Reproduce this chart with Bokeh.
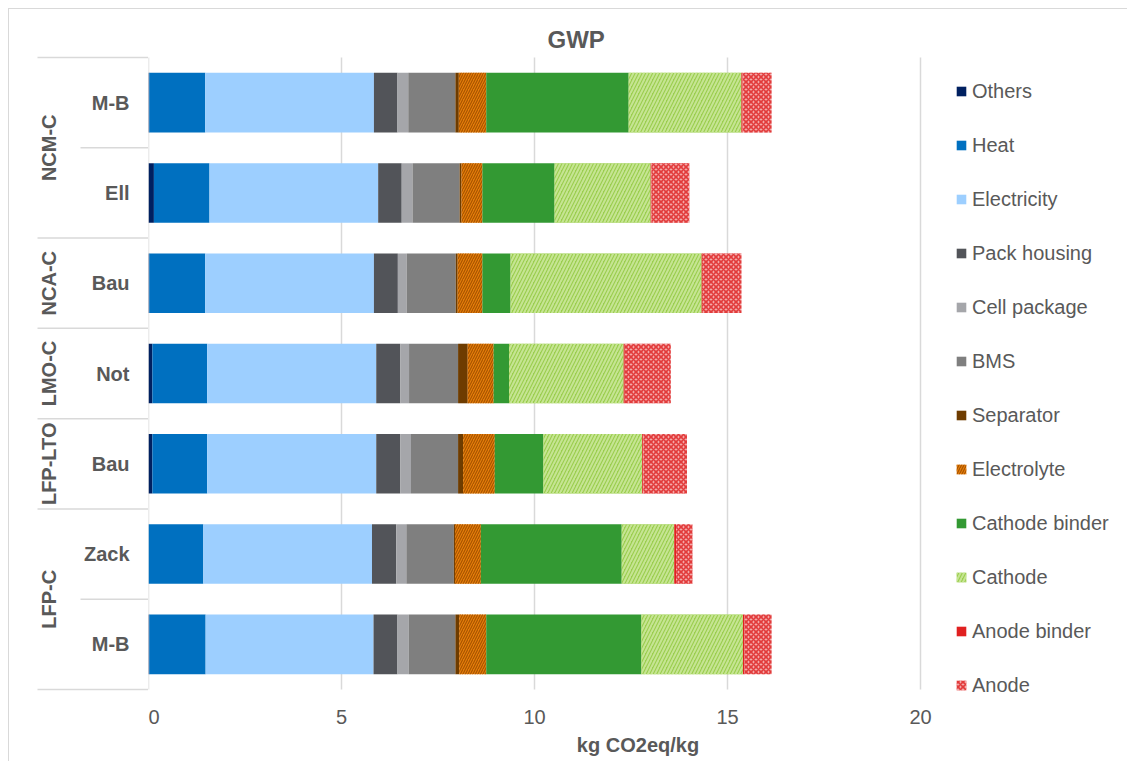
from bokeh.plotting import figure
from bokeh.models import ColumnDataSource, Range1d, FixedTicker, Legend, LegendItem
from bokeh.layouts import row
from bokeh.core.properties import value
from bokeh.embed import file_html
from bokeh.resources import INLINE
import math

# ---------------- data (bottom to top) ----------------
groups = ["LFP-C", "LFP-C", "LFP-LTO", "LMO-C", "NCA-C", "NCM-C", "NCM-C"]
studies = ["M-B", "Zack", "Bau", "Not", "Bau", "Ell", "M-B"]

others = [0.02, 0.00, 0.10, 0.10, 0.02, 0.14, 0.02]
heat = [1.46, 1.42, 1.42, 1.42, 1.45, 1.44, 1.45]
electricity = [4.35, 4.37, 4.38, 4.38, 4.37, 4.37, 4.37]
pack_housing = [0.62, 0.63, 0.62, 0.62, 0.62, 0.61, 0.61]
cell_package = [0.29, 0.26, 0.28, 0.23, 0.23, 0.28, 0.28]
bms = [1.21, 1.23, 1.22, 1.27, 1.27, 1.22, 1.22]
separator = [0.10, 0.03, 0.13, 0.25, 0.05, 0.05, 0.09]
electrolyte = [0.70, 0.67, 0.82, 0.67, 0.64, 0.54, 0.71]
cathode_binder = [4.02, 3.65, 1.26, 0.40, 0.73, 1.87, 3.69]
cathode = [2.63, 1.36, 2.56, 2.97, 4.95, 2.49, 2.92]
anode_binder = [0.04, 0.05, 0.03, 0.03, 0.01, 0.02, 0.03]
anode = [0.70, 0.42, 1.13, 1.19, 1.02, 0.98, 0.75]

series_names = ["Others", "Heat", "Electricity", "Pack housing", "Cell package", "BMS",
                "Separator", "Electrolyte", "Cathode binder", "Cathode", "Anode binder", "Anode"]
series_values = [others, heat, electricity, pack_housing, cell_package, bms,
                 separator, electrolyte, cathode_binder, cathode, anode_binder, anode]
x_ticks = [0, 5, 10, 15, 20]
title_text = "GWP"
x_title = "kg CO2eq/kg"

# ---------------- styles ----------------
fill_colors = ["#002060", "#0070C0", "#9DCFFF", "#525459", "#A5A6AA", "#7F7F7F",
               "#6E3C00", "#E67E0A", "#339933", "#9ACD4E", "#E02020", "#F4A9A9"]
hatch_patterns = [None, None, None, None, None, None,
                  None, "/", None, "/", None, "x"]
hatch_colors = ["black"] * 7 + ["#A85400", "black", "#C6E593", "black", "#E23B3B"]
hatch_scales = [12] * 7 + [5, 12, 7, 12, 5]
hatch_weights = [1] * 7 + [1.2, 1, 2, 1, 1.6]
TEXT = "#595959"
GRID = "#D9D9D9"
FONT = "Liberation Sans"

# ---------------- layout constants (pixels, figure coords) ----------------
LEFT_W = 139
MAIN_W = 979
FIG_H = 752
PAD_T = 2
PAD_B = 13
TOP = 48 - PAD_T       # frame top
BOTTOM = 680 + PAD_B   # frame bottom
n = len(studies)
ppc = (680 - 48) / n            # pixels per category
PX_PER_UNIT = 772 / 20           # pixels per x unit
y_range = Range1d(-0.5 - PAD_B / ppc, n - 0.5 + PAD_T / ppc)

idx = list(range(n))
data = {"y": idx}
for name, vals in zip(series_names, series_values):
    data[name] = vals
src = ColumnDataSource(data)

# ---------------- main figure ----------------
p = figure(width=MAIN_W, height=FIG_H, x_range=Range1d(0, MAIN_W / PX_PER_UNIT), y_range=y_range,
           y_axis_location=None, toolbar_location=None, output_backend="svg",
           min_border_left=0, min_border_right=0, min_border_top=TOP,
           min_border_bottom=FIG_H - BOTTOM, outline_line_color=None, title=title_text)

p.title.align = "left"
p.title.offset = 399
p.title.standoff = 5
p.title.text_font = FONT
p.title.text_font_size = "24px"
p.title.text_font_style = "bold"
p.title.text_color = TEXT

p.xgrid.visible = False
p.ygrid.visible = False
# vertical gridlines over the category span only
p.segment(x0=x_ticks, x1=x_ticks, y0=[-0.5] * len(x_ticks), y1=[n - 0.5] * len(x_ticks),
          line_color=GRID, line_width=1.5)

ax = p.xaxis[0]
ax.ticker = FixedTicker(ticks=x_ticks)
ax.bounds = (x_ticks[0], x_ticks[-1])
ax.axis_line_color = None
ax.major_tick_line_color = None
ax.minor_tick_line_color = None
ax.major_label_standoff = 1
ax.major_label_text_font = FONT
ax.major_label_text_font_size = "20px"
ax.major_label_text_color = TEXT
ax.axis_label = x_title
ax.axis_label_standoff = 7
ax.axis_label_text_font = FONT
ax.axis_label_text_font_size = "20px"
ax.axis_label_text_font_style = "bold"
ax.axis_label_text_color = TEXT

renderers = p.hbar_stack(series_names, y="y", height=0.66, source=src,
                         fill_color=fill_colors, line_color=None,
                         hatch_pattern=hatch_patterns, hatch_color=hatch_colors,
                         hatch_scale=hatch_scales, hatch_weight=hatch_weights)

n_items = len(series_names)
LH, SP = 24, 30
legend_h = n_items * LH + (n_items - 1) * SP
frame_h = BOTTOM - TOP
top_off = (91 - 9) - LH // 2 - TOP
legend = Legend(items=[LegendItem(label=nm, renderers=[r]) for nm, r in zip(series_names, renderers)],
                location=(955 - 148, frame_h - top_off - legend_h), margin=0, padding=0,
                glyph_width=12, glyph_height=12, label_height=LH, spacing=SP,
                label_standoff=5, label_text_font=FONT, label_text_font_size="20px",
                label_text_color=TEXT, border_line_color=None, background_fill_alpha=0)
p.add_layout(legend)

# ---------------- left category figure ----------------
left = figure(width=LEFT_W, height=FIG_H, x_range=Range1d(0, LEFT_W), y_range=y_range,
              x_axis_location=None, y_axis_location=None, toolbar_location=None,
              output_backend="svg", min_border_left=0, min_border_right=0,
              min_border_top=TOP, min_border_bottom=FIG_H - BOTTOM,
              outline_line_color=None, title_location=None)
left.xgrid.visible = False
left.ygrid.visible = False

sx0, sy = [], []
for i in range(n + 1):
    yb = i - 0.5
    if i == 0 or i == n or groups[i] != groups[i - 1]:
        sx0.append(28)
    else:
        sx0.append(71)
    sy.append(yb)
left.segment(x0=sx0, y0=sy, x1=[LEFT_W] * len(sy), y1=sy, line_color=GRID, line_width=1.5)

left.text(x=[120] * n, y=idx, text=studies, text_align="right", text_baseline="middle",
          text_font=value(FONT), text_font_size="20px", text_font_style="bold", text_color=TEXT)

g_names, g_centers = [], []
for i, g in enumerate(groups):
    if i == 0 or g != groups[i - 1]:
        g_names.append(g)
        members = [j for j in range(n) if groups[j] == g]
        g_centers.append(sum(members) / len(members))
left.text(x=[39] * len(g_names), y=g_centers, text=g_names, angle=math.pi / 2,
          text_align="center", text_baseline="middle",
          text_font=value(FONT), text_font_size="20px", text_font_style="bold", text_color=TEXT)

layout = row(left, p, margin=(8, 0, 0, 8),
             styles={"border-top": "1px solid #D9D9D9", "border-left": "1px solid #D9D9D9"})

open("out.html", "w").write(file_html(layout, INLINE))
